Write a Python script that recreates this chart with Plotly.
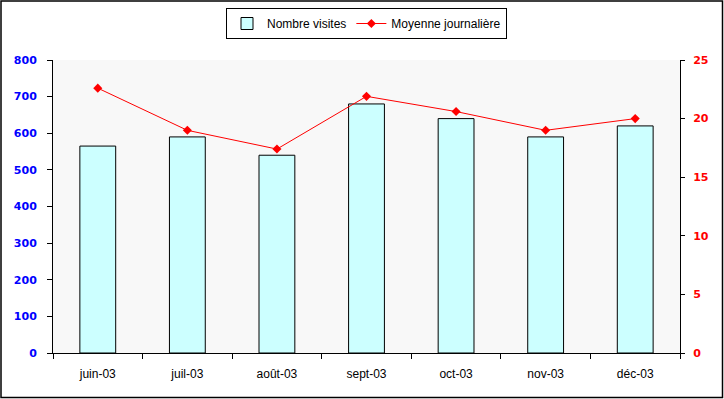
import plotly.graph_objects as go

months = ["juin-03", "juil-03", "août-03", "sept-03", "oct-03", "nov-03", "déc-03"]
visites = [565, 590, 540, 680, 640, 590, 620]
moyenne = [22.6, 19.0, 17.4, 21.9, 20.6, 19.0, 20.0]
left_ticks = [0, 100, 200, 300, 400, 500, 600, 700, 800]
right_ticks = [0, 5, 10, 15, 20, 25]

W, H = 724, 399
ML, MR, MT, MB = 53, 44, 60, 46
PW, PH = W - ML - MR, H - MT - MB

def px_x(p):
    return (p - ML) / PW

def px_y(p):
    return (H - MB - p) / PH

fig = go.Figure()
fig.add_trace(go.Bar(
    x=months, y=visites, name="Nombre visites",
    marker=dict(color="#CCFFFF", line=dict(color="black", width=1)),
    yaxis="y",
))
fig.add_trace(go.Scatter(
    x=months, y=moyenne, name="Moyenne journalière",
    mode="lines+markers",
    line=dict(color="#FF0000", width=1),
    marker=dict(symbol="diamond", size=7, color="#FF0000"),
    yaxis="y2",
))

fig.update_layout(
    width=W, height=H,
    margin=dict(l=ML, r=MR, t=MT, b=MB, pad=0, autoexpand=False),
    paper_bgcolor="white",
    plot_bgcolor="#f8f8f8",
    bargap=0.6,
    font=dict(family="Liberation Sans, Arial, sans-serif", size=12, color="black"),
    showlegend=True,
    legend=dict(
        orientation="h", x=0.5, xanchor="center", y=px_y(8), yanchor="top",
        bgcolor="white", bordercolor="black", borderwidth=1,
        font=dict(family="Liberation Sans, Arial, sans-serif", size=12, color="black"),
        tracegroupgap=0, itemwidth=30,
    ),
    xaxis=dict(
        type="category", showline=True, linecolor="black", linewidth=1,
        ticks="outside", ticklen=5, tickcolor="black", tickson="boundaries",
        showgrid=False, zeroline=False, automargin=False,
        tickfont=dict(family="Liberation Sans, Arial, sans-serif", size=12, color="black"),
        ticklabelstandoff=10,
    ),
    yaxis=dict(
        range=[0, 800], tickvals=left_ticks,
        showline=True, linecolor="black", linewidth=1,
        ticks="outside", ticklen=5, tickcolor="black",
        showgrid=False, zeroline=False, automargin=False,
        tickfont=dict(family="DejaVu Sans, Verdana, sans-serif", size=11, color="#0000FF", weight="bold"),
        ticklabelstandoff=8,
    ),
    yaxis2=dict(
        range=[0, 25], tickvals=right_ticks, overlaying="y", side="right",
        showline=True, linecolor="black", linewidth=1,
        ticks="outside", ticklen=4, tickcolor="black",
        showgrid=False, zeroline=False, automargin=False,
        tickfont=dict(family="DejaVu Sans, Verdana, sans-serif", size=11, color="#FF0000", weight="bold"),
        ticklabelstandoff=6,
    ),
    shapes=[dict(
        type="rect", xref="paper", yref="paper",
        x0=px_x(1), x1=px_x(722.5), y0=px_y(1), y1=px_y(397.5),
        line=dict(color="black", width=1.5), fillcolor="rgba(0,0,0,0)", layer="above",
    )],
)

fig.write_html(
    "out.html",
    config={"displayModeBar": False},
    post_script="document.body.style.margin='0';document.body.style.overflow='hidden';",
)
